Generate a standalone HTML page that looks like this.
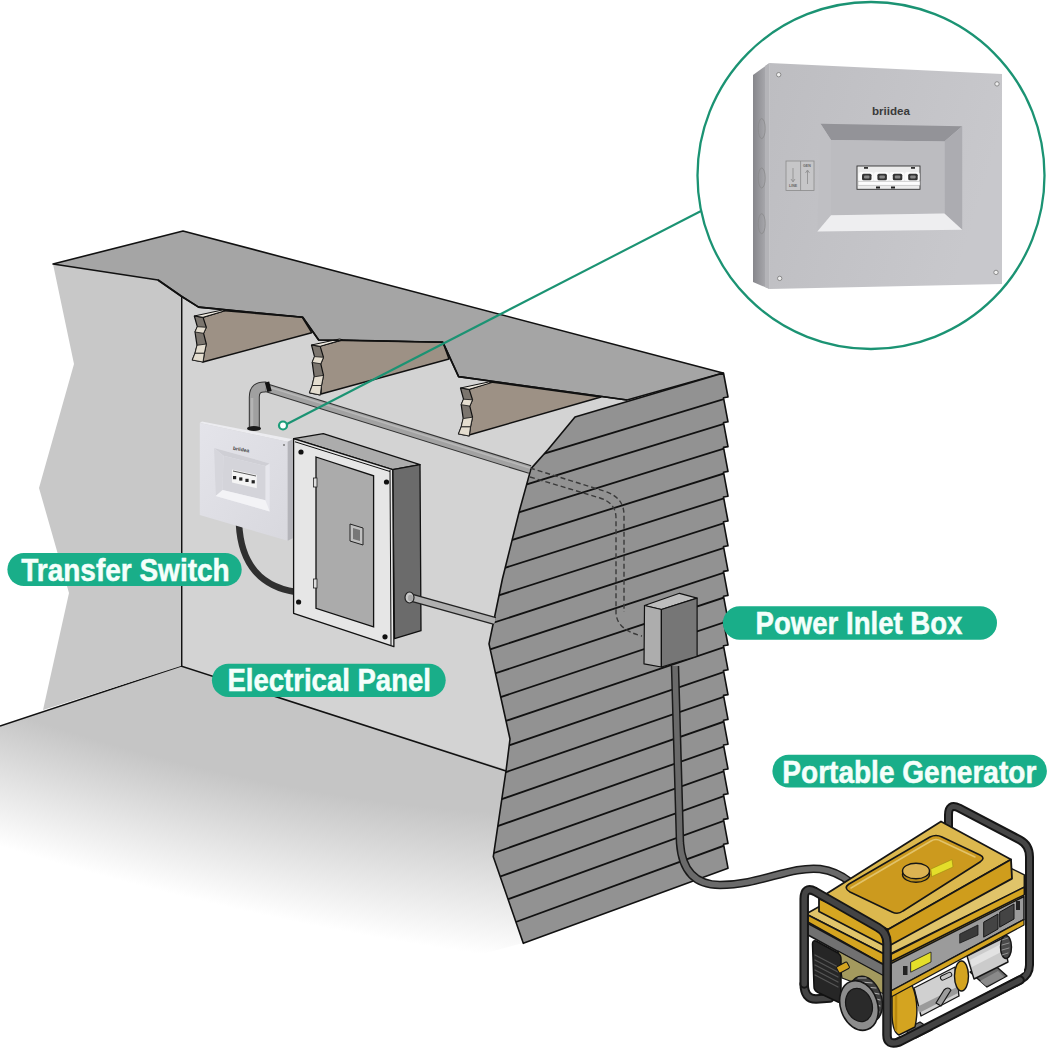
<!DOCTYPE html>
<html><head><meta charset="utf-8">
<style>
html,body{margin:0;padding:0;background:#fff;}
body{width:1050px;height:1050px;overflow:hidden;position:relative;font-family:"Liberation Sans",sans-serif;}
svg{position:absolute;left:0;top:0;}
</style></head><body>
<svg width="1050" height="1050" viewBox="0 0 1050 1050">
<defs>
  <filter id="fblur" x="-50%" y="-50%" width="200%" height="200%"><feGaussianBlur stdDeviation="40"/></filter>
  <clipPath id="floorclip"><polygon points="0,726 181,666 506,771 493,857 523,943 0,1050"/></clipPath>
  <clipPath id="sidingclip"><polygon id="sidpoly" points="723.5,373.0 728.0,397.0 723.5,397.8 728.0,421.8 723.5,422.6 728.0,446.6 723.5,447.4 728.0,471.4 723.5,472.2 728.0,496.2 723.5,497.0 728.0,521.0 723.5,521.8 728.0,545.8 723.5,546.6 728.0,570.6 723.5,571.4 728.0,595.4 723.5,596.2 728.0,620.2 723.5,621.0 728.0,645.0 723.5,645.8 728.0,669.8 723.5,670.6 728.0,694.6 723.5,695.4 728.0,719.4 723.5,720.2 728.0,744.2 723.5,745.0 728.0,769.0 723.5,769.8 728.0,793.8 723.5,794.6 728.0,818.6 723.5,819.4 728.0,843.4 723.5,844.2 728.0,868.2 523.3,943.3 493.3,856.7 506.2,769.5 510.0,739.0 489.0,643.8 502.4,579.0 519.5,510.5 531.0,468.6 548.1,449.5 575.0,417.0"/></clipPath>
</defs>
<polygon points="181,290 640,395 600,430 540,650 540,780 506,771 181,666" fill="#d3d3d3"/>
<radialGradient id="flg" gradientUnits="userSpaceOnUse" cx="0" cy="0" r="1" gradientTransform="translate(200,550) rotate(15) scale(1050,340)"><stop offset="0.62" stop-color="#c5c5c5"/><stop offset="0.82" stop-color="#e4e4e4"/><stop offset="1" stop-color="#ffffff"/></radialGradient>
<polygon points="0,726 181,666 540,780 523,943 0,1084" fill="url(#flg)"/>
<polyline points="0,726 181,666 506,771" fill="none" stroke="#111" stroke-width="1.6"/>
<line x1="181.5" y1="296" x2="181.5" y2="666" stroke="#111" stroke-width="1.9"/>
<polygon points="53,264 158,280 181,296 181,666 43,710 69,593 39,488 74,364" fill="#c8c8c8"/>
<polygon points="53,264 183,231 723,373 627,400 458.6,376.6 442.9,342.3 318.7,340 302.7,317.3 198.6,307.1 181,296 158,280" fill="#a5a5a5" stroke="#111" stroke-width="1.6" stroke-linejoin="round"/>
<polygon points="203.0,317.3 225.0,310.7 302.3,317.3 311.7,332.7 203.0,362.0" fill="#9d9185" stroke="#111" stroke-width="1.4" stroke-linejoin="round"/>
<polygon points="194.3,316.0 197.3,326.7 195.0,332.0 197.0,345.3 195.0,353.3 192.3,360.0 203.0,362.0 204.3,353.3 206.3,344.0 203.6,333.3 206.3,327.3 203.0,317.3" fill="#7b756e" stroke="#111" stroke-width="1.2" stroke-linejoin="round"/>
<polygon points="197.3,326.7 206.3,327.3 203.6,333.3 195.0,332.0" fill="#e4ddcf" stroke="#111" stroke-width="0.8"/>
<polygon points="197.0,345.3 206.3,344.0 204.3,353.3 195.0,353.3" fill="#e4ddcf" stroke="#111" stroke-width="0.8"/>
<polygon points="195.0,353.3 204.3,353.3 203.0,362.0 192.3,360.0" fill="#e4ddcf" stroke="#111" stroke-width="0.8"/>
<polygon points="194.3,316.0 222.3,310.0 225.3,310.7 203.0,317.3" fill="#ebe6dc" stroke="#111" stroke-width="1"/>
<polygon points="320.0,346.0 342.0,340.0 442.9,342.3 449.0,359.0 321.0,394.0" fill="#9d9185" stroke="#111" stroke-width="1.4" stroke-linejoin="round"/>
<polygon points="311.5,345.0 314.5,356.6 312.2,362.4 314.2,376.8 312.2,385.5 309.5,392.8 320.2,395.0 321.5,385.5 323.5,375.4 320.8,363.8 323.5,357.3 320.2,346.4" fill="#7b756e" stroke="#111" stroke-width="1.2" stroke-linejoin="round"/>
<polygon points="314.5,356.6 323.5,357.3 320.8,363.8 312.2,362.4" fill="#e4ddcf" stroke="#111" stroke-width="0.8"/>
<polygon points="314.2,376.8 323.5,375.4 321.5,385.5 312.2,385.5" fill="#e4ddcf" stroke="#111" stroke-width="0.8"/>
<polygon points="312.2,385.5 321.5,385.5 320.2,395.0 309.5,392.8" fill="#e4ddcf" stroke="#111" stroke-width="0.8"/>
<polygon points="311.5,345.0 339.5,339.0 342.5,339.7 320.2,346.3" fill="#ebe6dc" stroke="#111" stroke-width="1"/>
<polygon points="469.0,389.3 491.0,382.0 601.0,397.0 469.0,435.0" fill="#9d9185" stroke="#111" stroke-width="1.4" stroke-linejoin="round"/>
<polygon points="460.5,388.0 463.5,399.2 461.2,404.7 463.2,418.6 461.2,426.9 458.5,433.9 469.2,436.0 470.5,426.9 472.5,417.2 469.8,406.1 472.5,399.8 469.2,389.4" fill="#7b756e" stroke="#111" stroke-width="1.2" stroke-linejoin="round"/>
<polygon points="463.5,399.2 472.5,399.8 469.8,406.1 461.2,404.7" fill="#e4ddcf" stroke="#111" stroke-width="0.8"/>
<polygon points="463.2,418.6 472.5,417.2 470.5,426.9 461.2,426.9" fill="#e4ddcf" stroke="#111" stroke-width="0.8"/>
<polygon points="461.2,426.9 470.5,426.9 469.2,436.0 458.5,433.9" fill="#e4ddcf" stroke="#111" stroke-width="0.8"/>
<polygon points="460.5,388.0 488.5,382.0 491.5,382.7 469.2,389.3" fill="#ebe6dc" stroke="#111" stroke-width="1"/>
<polyline points="158,280 181,296 198.6,307.1 302.7,317.3 318.7,340 442.9,342.3 458.6,376.6 627,400" fill="none" stroke="#111" stroke-width="1.6" stroke-linejoin="round"/>
<polygon points="723.5,373.0 728.0,397.0 723.5,397.8 728.0,421.8 723.5,422.6 728.0,446.6 723.5,447.4 728.0,471.4 723.5,472.2 728.0,496.2 723.5,497.0 728.0,521.0 723.5,521.8 728.0,545.8 723.5,546.6 728.0,570.6 723.5,571.4 728.0,595.4 723.5,596.2 728.0,620.2 723.5,621.0 728.0,645.0 723.5,645.8 728.0,669.8 723.5,670.6 728.0,694.6 723.5,695.4 728.0,719.4 723.5,720.2 728.0,744.2 723.5,745.0 728.0,769.0 723.5,769.8 728.0,793.8 723.5,794.6 728.0,818.6 723.5,819.4 728.0,843.4 723.5,844.2 728.0,868.2 523.3,943.3 493.3,856.7 506.2,769.5 510.0,739.0 489.0,643.8 502.4,579.0 519.5,510.5 531.0,468.6 548.1,449.5 575.0,417.0" fill="#929292"/>
<g clip-path="url(#sidingclip)" stroke="#111" stroke-width="1.8"><line x1="728" y1="397.8" x2="470" y2="476.1"/><line x1="728" y1="422.6" x2="470" y2="501.8"/><line x1="728" y1="447.4" x2="470" y2="527.5"/><line x1="728" y1="472.2" x2="470" y2="553.2"/><line x1="728" y1="497.0" x2="470" y2="578.9"/><line x1="728" y1="521.8" x2="470" y2="604.6"/><line x1="728" y1="546.6" x2="470" y2="630.3"/><line x1="728" y1="571.4" x2="470" y2="656.0"/><line x1="728" y1="596.2" x2="470" y2="681.7"/><line x1="728" y1="621.0" x2="470" y2="707.4"/><line x1="728" y1="645.8" x2="470" y2="733.1"/><line x1="728" y1="670.6" x2="470" y2="758.8"/><line x1="728" y1="695.4" x2="470" y2="784.5"/><line x1="728" y1="720.2" x2="470" y2="810.2"/><line x1="728" y1="745.0" x2="470" y2="835.9"/><line x1="728" y1="769.8" x2="470" y2="861.6"/><line x1="728" y1="794.6" x2="470" y2="887.4"/><line x1="728" y1="819.4" x2="470" y2="913.1"/><line x1="728" y1="844.2" x2="470" y2="938.8"/></g>
<polygon points="723.5,373.0 728.0,397.0 723.5,397.8 728.0,421.8 723.5,422.6 728.0,446.6 723.5,447.4 728.0,471.4 723.5,472.2 728.0,496.2 723.5,497.0 728.0,521.0 723.5,521.8 728.0,545.8 723.5,546.6 728.0,570.6 723.5,571.4 728.0,595.4 723.5,596.2 728.0,620.2 723.5,621.0 728.0,645.0 723.5,645.8 728.0,669.8 723.5,670.6 728.0,694.6 723.5,695.4 728.0,719.4 723.5,720.2 728.0,744.2 723.5,745.0 728.0,769.0 723.5,769.8 728.0,793.8 723.5,794.6 728.0,818.6 723.5,819.4 728.0,843.4 723.5,844.2 728.0,868.2 523.3,943.3 493.3,856.7 506.2,769.5 510.0,739.0 489.0,643.8 502.4,579.0 519.5,510.5 531.0,468.6 548.1,449.5 575.0,417.0" fill="none" stroke="#111" stroke-width="1.6" stroke-linejoin="round"/>
<g fill="none" stroke="#3a3a3a" stroke-width="1.4" stroke-dasharray="5,3"><path d="M530,468 L604,491 Q624,497 624,515 L624,612"/><path d="M530,477 L600,498 Q616,503 616,518 L616,613 Q617,630 642,636"/></g>
<line x1="264" y1="387" x2="530" y2="469.5" stroke="#333" stroke-width="9" stroke-linecap="butt"/>
<line x1="264" y1="387" x2="530" y2="469.5" stroke="#a2a2a2" stroke-width="7" stroke-linecap="butt"/>
<line x1="264" y1="385.5" x2="530" y2="468" stroke="#b8b8b8" stroke-width="1.6"/>
<path d="M254.3,430 L254.3,397 Q254.3,386 266,387" fill="none" stroke="#333" stroke-width="11"/>
<path d="M254.3,430 L254.3,397 Q254.3,386 266,387" fill="none" stroke="#a0a0a0" stroke-width="9"/>
<line x1="252" y1="430" x2="252" y2="398" stroke="#b4b4b4" stroke-width="2.5"/>
<line x1="267" y1="382" x2="269.5" y2="391.5" stroke="#111" stroke-width="4.5"/>
<path d="M239,524 C241,565 262,587 296,592" fill="none" stroke="#303030" stroke-width="6.5"/>
<polygon points="199.8,423 202,421.5 292.7,439.2 287.7,441.7" fill="#ececf0"/>
<linearGradient id="tsg" x1="0" y1="0" x2="1" y2="1"><stop offset="0" stop-color="#e4e4ea"/><stop offset="1" stop-color="#d8d8de"/></linearGradient>
<polygon points="199.8,423 287.7,441.7 287.7,540.8 199.8,515" fill="url(#tsg)"/>
<polygon points="287.7,441.7 292.7,439.2 292.7,538.3 287.7,540.8" fill="#b4b4ba"/>
<polygon points="214,448 269.7,463.4 269.7,511.4 215.7,496" fill="#e6e6ec"/>
<polygon points="214,448 269.7,463.4 265.4,466 223.4,455.7" fill="#cfcfd5"/>
<polygon points="214,448 223.4,455.7 222.6,490 215.7,496" fill="#d6d6dc"/>
<polygon points="223.4,455.7 265.4,466 265.4,500.2 222.6,490" fill="#d4d4da"/>
<polygon points="215.7,496 222.6,490 265.4,500.2 269.7,511.4" fill="#f3f3f6"/>
<polygon points="232,469.4 256.8,475 256.8,488.2 232,482.6" fill="#f4f4f4"/>
<g fill="#222"><rect x="233.0" y="476.0" width="3.2" height="3.2"/><rect x="239.2" y="477.4" width="3.2" height="3.2"/><rect x="245.4" y="478.8" width="3.2" height="3.2"/><rect x="251.6" y="480.2" width="3.2" height="3.2"/></g>
<line x1="233" y1="471" x2="256" y2="476" stroke="#333" stroke-width="0.8"/>
<text x="233" y="451" font-size="5" font-weight="bold" fill="#444" font-family="Liberation Sans" transform="rotate(10 240 449)">briidea</text>
<circle cx="284" cy="445" r="1" fill="#777"/>
<ellipse cx="254" cy="428.5" rx="7" ry="2.4" fill="#1a1a1a"/>
<polygon points="293.6,438.7 323.3,433.7 420,464.7 392.7,469.6" fill="#acacac" stroke="#111" stroke-width="1.3" stroke-linejoin="round"/>
<polygon points="392.7,469.6 420,464.7 421,630.7 394.5,638.7" fill="#6b6b6b" stroke="#111" stroke-width="1.3" stroke-linejoin="round"/>
<polygon points="293.6,438.7 392.7,469.6 393.9,646.7 293.6,613.3" fill="#e6e6e6" stroke="#111" stroke-width="1.3" stroke-linejoin="round"/>
<line x1="390" y1="470" x2="391" y2="645" stroke="#111" stroke-width="1"/>
<line x1="295" y1="441.8" x2="390" y2="471.5" stroke="#111" stroke-width="1"/>
<polygon points="316,457 373.6,475.8 373.6,626.9 316,608.3" fill="#ababab" stroke="#111" stroke-width="1.3"/>
<circle cx="301" cy="452" r="2.6" fill="#111"/>
<circle cx="386.5" cy="482" r="2.6" fill="#111"/>
<circle cx="298.6" cy="602" r="2.6" fill="#111"/>
<circle cx="385" cy="636.8" r="2.6" fill="#111"/>
<rect x="313.5" y="478" width="3.5" height="9" fill="#ddd" stroke="#222" stroke-width="0.8"/>
<rect x="313.5" y="579" width="3.5" height="9" fill="#ddd" stroke="#222" stroke-width="0.8"/>
<polygon points="350,524 363,528 363,545 350,541" fill="#c0c0c0" stroke="#222" stroke-width="1"/>
<polygon points="353,528 360,530 360,541 353,539" fill="#777"/>
<line x1="409" y1="597" x2="495" y2="621" stroke="#222" stroke-width="8.5"/>
<line x1="409" y1="597" x2="495" y2="621" stroke="#b0b0b0" stroke-width="5.5"/>
<ellipse cx="409.5" cy="597.5" rx="4.5" ry="5.5" fill="#c8c8c8" stroke="#222" stroke-width="1.2"/><ellipse cx="410.5" cy="598" rx="2.5" ry="3.2" fill="#a8a8a8"/>
<polygon points="644.5,605.5 679.5,593.3 697.1,598.1 661.4,609.5" fill="#bdbdbd" stroke="#111" stroke-width="1.2" stroke-linejoin="round"/>
<polygon points="644.5,605.5 661.4,609.5 661.4,667 644,663.8" fill="#adadad" stroke="#111" stroke-width="1.2" stroke-linejoin="round"/>
<polygon points="661.4,609.5 697.1,598.1 697.1,656.2 661.4,667" fill="#767676" stroke="#111" stroke-width="1.2" stroke-linejoin="round"/>
<path d="M675,666 L680,843 Q683,885 720,885 C760,885 790,866 820,869 C835,871 845,878 850,882" fill="none" stroke="#1a1a1a" stroke-width="8.5"/>
<path d="M675,666 L680,843 Q683,885 720,885 C760,885 790,866 820,869 C835,871 845,878 850,882" fill="none" stroke="#6a6a6a" stroke-width="5.5"/>
<line x1="285" y1="425" x2="702" y2="210.5" stroke="#1b9373" stroke-width="2.1"/>
<circle cx="283" cy="425.5" r="4" fill="#fff" stroke="#1b9d79" stroke-width="2.2"/>
<circle cx="871" cy="175.5" r="173.5" fill="#fff" stroke="#1b9373" stroke-width="2.3"/>
<linearGradient id="cbf" x1="0" y1="0" x2="1" y2="0.3"><stop offset="0" stop-color="#bdbdc1"/><stop offset="1" stop-color="#c8c8cc"/></linearGradient>
<linearGradient id="cbs" x1="0" y1="0" x2="1" y2="0"><stop offset="0" stop-color="#86868b"/><stop offset="1" stop-color="#b2b2b6"/></linearGradient>
<polygon points="753,75 769.5,63 769.5,289 753,282" fill="url(#cbs)"/>
<polygon points="765,66 769.5,63 769.5,289 765,287" fill="#b4b4b8"/>
<polygon points="769.5,63 1002,74 1002,284 769.5,289" fill="url(#cbf)"/>
<polygon points="820.5,123.8 962.2,126.2 944.4,141.6 831,140" fill="#939398"/>
<polygon points="820.5,123.8 831,140 831,215.2 817.3,231.4" fill="#bfbfc3"/>
<polygon points="962.2,126.2 962.2,229.8 944.4,213.6 944.4,141.6" fill="#acacb1"/>
<polygon points="831,140 944.4,141.6 944.4,213.6 831,215.2" fill="#bcbcc0"/>
<polygon points="817.3,231.4 831,215.2 944.4,213.6 962.2,229.8" fill="#eeeef0"/>
<rect x="857" y="166" width="63" height="23.3" fill="#ececec" stroke="#333" stroke-width="0.9"/>
<g fill="#fafafa"><rect x="858.5" y="172" width="15" height="9.5" rx="2.5"/><rect x="873.9" y="172" width="15" height="9.5" rx="2.5"/><rect x="889.3" y="172" width="15" height="9.5" rx="2.5"/><rect x="904.7" y="172" width="15" height="9.5" rx="2.5"/></g>
<g fill="#333"><rect x="862.0" y="173.8" width="9.5" height="6.5" rx="1.5"/><rect x="877.4" y="173.8" width="9.5" height="6.5" rx="1.5"/><rect x="892.8" y="173.8" width="9.5" height="6.5" rx="1.5"/><rect x="908.2" y="173.8" width="9.5" height="6.5" rx="1.5"/></g>
<g fill="#888"><rect x="864.0" y="175.5" width="5.5" height="3" rx="1"/><rect x="879.4" y="175.5" width="5.5" height="3" rx="1"/><rect x="894.8" y="175.5" width="5.5" height="3" rx="1"/><rect x="910.2" y="175.5" width="5.5" height="3" rx="1"/></g>
<rect x="858" y="181.2" width="62" height="4" fill="#fdfdfd" stroke="#aaa" stroke-width="0.5"/>
<rect x="876" y="186.5" width="4" height="2" fill="#222"/><rect x="891" y="186.5" width="4" height="2" fill="#222"/>
<rect x="864" y="167" width="4" height="1.8" fill="#333"/><rect x="911" y="167" width="4" height="1.8" fill="#333"/>
<text x="872" y="115" font-size="10.5" font-weight="bold" fill="#3a3a3a" font-family="Liberation Sans" textLength="38" lengthAdjust="spacingAndGlyphs">briidea</text>
<rect x="786" y="161" width="28" height="29.5" fill="#c6c6c8" stroke="#8a8a8a" stroke-width="0.8"/>
<line x1="800.6" y1="161" x2="800.6" y2="190.5" stroke="#8a8a8a" stroke-width="0.8"/>
<g stroke="#777" stroke-width="0.6" fill="none"><path d="M793,168 L793,181 M791,179 L793,182 L795,179"/><path d="M807.5,184 L807.5,171 M805.5,173 L807.5,170 L809.5,173"/></g>
<text x="789" y="187" font-size="3.6" fill="#666" font-family="Liberation Sans" font-weight="bold">LINE</text>
<text x="803" y="167" font-size="3.6" fill="#666" font-family="Liberation Sans" font-weight="bold">GEN</text>
<circle cx="778.7" cy="74.7" r="2.2" fill="#eee" stroke="#777" stroke-width="0.8"/>
<circle cx="997" cy="83.9" r="2.2" fill="#eee" stroke="#777" stroke-width="0.8"/>
<circle cx="779.7" cy="278.4" r="2.2" fill="#eee" stroke="#777" stroke-width="0.8"/>
<circle cx="996" cy="272.4" r="2.2" fill="#eee" stroke="#777" stroke-width="0.8"/>
<ellipse cx="761.7" cy="128.6" rx="3.5" ry="10" fill="none" stroke="#8a8a8c" stroke-width="0.8"/>
<ellipse cx="761.7" cy="178" rx="3.5" ry="10" fill="none" stroke="#8a8a8c" stroke-width="0.8"/>
<ellipse cx="761.7" cy="223.7" rx="3.5" ry="10" fill="none" stroke="#8a8a8c" stroke-width="0.8"/>
<g id="generator" stroke-linejoin="round" stroke-linecap="round">
  <!-- back frame loop -->
  <path d="M948.5,832 L948.5,815 Q948.5,803 959,808 L1020,840 Q1029.5,845 1029.5,857 L1029.5,965 Q1029.5,975 1020,980 L898,1042" fill="none" stroke="#161616" stroke-width="9"/>
  <path d="M948.5,832 L948.5,815 Q948.5,803 959,808 L1020,840 Q1029.5,845 1029.5,857 L1029.5,965 Q1029.5,975 1020,980 L898,1042" fill="none" stroke="#464646" stroke-width="5"/>
  <!-- lower machinery background -->
  <polygon points="891,996 1024,924 1024,972 905,1036 891,1036" fill="#ffffff"/>
  <!-- right foot -->
  <polygon points="970,972 990,961 1007,976 987,987" fill="#6c6c6c" stroke="#161616" stroke-width="1.4"/>
  <polygon points="980,981 998,971 1004,977 986,986" fill="#8a8a8a"/>
  <!-- right silver cylinder -->
  <polygon points="967,956 1003,938 1008,962 974,979" fill="#cbcbcb" stroke="#161616" stroke-width="1.4"/>
  <polygon points="970,960 1003,943 1005,950 972,967" fill="#e2e2e2"/>
  <ellipse cx="1006" cy="947" rx="5.5" ry="11.5" fill="#4a4a4a" stroke="#161616" stroke-width="1.4"/>
  <g stroke="#999" stroke-width="0.9"><line x1="1002" y1="940" x2="1008" y2="938"/><line x1="1002" y1="945" x2="1009" y2="943"/><line x1="1002" y1="950" x2="1009" y2="948"/><line x1="1002" y1="955" x2="1008" y2="953"/></g>
  <!-- left foot -->
  <polygon points="904,1030 920,1022 932,1030 916,1038" fill="#6c6c6c" stroke="#161616" stroke-width="1.3"/>
  <!-- middle silver cylinder -->
  <polygon points="914,988 955,967 959,996 921,1016" fill="#d0d0d0" stroke="#161616" stroke-width="1.4"/>
  <polygon points="917,1007 957,987 958,993 919,1013" fill="#9a9a9a"/>
  <rect x="940" y="974" width="12" height="4.5" rx="2.2" fill="#c4c4c4" stroke="#161616" stroke-width="1" transform="rotate(-25 946 976)"/>
  <path d="M936,1003 L944,990 Q948,986 951,990 L941,1006 Z" fill="#9d9d9d" stroke="#161616" stroke-width="1.2"/>
  <ellipse cx="961.5" cy="976" rx="7" ry="15" fill="#d4a420" stroke="#161616" stroke-width="1.4"/>
  <!-- yellow end cap -->
  <path d="M892,995 L912,985 Q920,1004 915,1027 L899,1035 Q892,1032 892,1012 Z" fill="#d4a420" stroke="#161616" stroke-width="1.4"/>
  <path d="M896,996 L896,1030" stroke="#b8890f" stroke-width="2.5"/>
  <!-- control panel -->
  <polygon points="891,961.5 1024.3,894.8 1024.3,897 891,964" fill="#d4a420"/>
  <polygon points="891,963.5 1024,896.5 1024,919.5 891,991" fill="#9b9b9b" stroke="#161616" stroke-width="1.5"/>
  <polygon points="891,991 1024,919.5 1024,925 891,997" fill="#d4a420" stroke="#161616" stroke-width="1.2"/>
  <polygon points="911,962 931,952 931,962 911,972" fill="#e4de2a" stroke="#161616" stroke-width="0.8"/>
  <rect x="903" y="966" width="4.5" height="9" fill="#222"/>
  <polygon points="960,934 978,925 978,935 960,943" fill="#3a3a3a" stroke="#161616" stroke-width="0.8"/>
  <polygon points="984,922 998,914 998,929 984,937" fill="#444" stroke="#161616" stroke-width="1"/>
  <polygon points="1000,912 1014,904 1014,919 1000,927" fill="#444" stroke="#161616" stroke-width="1"/>
  <rect x="1016" y="901" width="4" height="9" fill="#222"/>
  <!-- base plate -->
  <polygon points="806,914 945,836 1024.3,874.8 1024.3,887.1 887,955.5" fill="#e0c46a" stroke="#161616" stroke-width="1.5"/>
  <polygon points="806,914 887,955.5 887,966.5 806,921" fill="#d4a420" stroke="#161616" stroke-width="1.5"/>
  <polygon points="891,954.3 1024.3,887.1 1024.3,894.8 891,961.5" fill="#d4a420" stroke="#161616" stroke-width="1.5"/>
  <!-- crossbar gray -->
  <polygon points="802.6,920.5 887,966.5 887,978.5 802.6,932" fill="#717171" stroke="#161616" stroke-width="1.5"/>
  <!-- tank -->
  <polygon points="819,898.6 941,821.5 1011,859.5 888,929.5" fill="#dcb84e" stroke="#161616" stroke-width="1.8"/>
  <polygon points="819,898.6 888,929.5 887,947 819,911.5" fill="#d6a621" stroke="#161616" stroke-width="1.8"/>
  <polygon points="888,929.5 1011,859.5 1012,878.6 887,947" fill="#cf9d1c" stroke="#161616" stroke-width="1.8"/>
  <path d="M849,884 L930,837 Q936,834 942,837 L980,855 Q986,858 980,862 L903,911 Q898,915 892,912 L850,892 Q843,888 849,884 Z" fill="#cc9a1e" stroke="#161616" stroke-width="1.6"/>
  <path d="M851,888 L931,841 Q936,838 941,841 L975,857" fill="none" stroke="#e2c36a" stroke-width="1.6"/>
  <ellipse cx="916" cy="874.5" rx="13.5" ry="7.8" fill="#b98b18" stroke="#161616" stroke-width="1.4"/>
  <ellipse cx="916" cy="871" rx="13.5" ry="7.8" fill="#dcb352" stroke="#161616" stroke-width="1.4"/>
  <polygon points="931,869 952,859.5 953,867 932,876.5" fill="#e4de2a" stroke="#9a8a10" stroke-width="0.6"/>
  <path d="M830,998 L816,999 Q804.2,999 804.2,984" fill="none" stroke="#161616" stroke-width="9.5"/>
  <path d="M830,998 L816,999 Q804.2,999 804.2,984" fill="none" stroke="#444" stroke-width="5.5"/>
  <!-- engine block -->
  <polygon points="838,951 887,977.5 887,995 842,978" fill="#a49a5e" stroke="#161616" stroke-width="1.2"/>
  <path d="M812.5,944 Q812.5,940 816,941 L838,953 Q841,955 841,959 L841,1000 Q841,1003 838,1002 L817,992 Q814,990 814,987 Z" fill="#262626" stroke="#111" stroke-width="1.5"/>
  <g stroke="#555" stroke-width="1.3"><line x1="815" y1="955" x2="838" y2="967"/><line x1="815" y1="960" x2="838" y2="972"/><line x1="815" y1="965" x2="838" y2="977"/><line x1="815" y1="970" x2="838" y2="982"/><line x1="815" y1="975" x2="838" y2="987"/></g>
  <rect x="837" y="964" width="12" height="7" rx="1.5" fill="#d4a420" stroke="#161616" stroke-width="1" transform="rotate(-28 843 967.5)"/>
  <!-- wheel -->
  <ellipse cx="866" cy="999" rx="15.5" ry="23.5" fill="#3e3e3e" stroke="#161616" stroke-width="1.5" transform="rotate(-19 866 999)"/>
  <g stroke="#b0b0b0" stroke-width="1.2">
    <line x1="858" y1="978" x2="866" y2="978"/><line x1="862" y1="982" x2="872" y2="983"/><line x1="865" y1="987" x2="876" y2="988"/><line x1="868" y1="992" x2="879" y2="994"/><line x1="869" y1="997" x2="880" y2="1000"/><line x1="870" y1="1002" x2="880" y2="1006"/><line x1="870" y1="1007" x2="879" y2="1012"/><line x1="869" y1="1012" x2="877" y2="1017"/>
  </g>
  <ellipse cx="859" cy="1005.5" rx="18.5" ry="25.5" fill="#8c8c8c" stroke="#161616" stroke-width="1.6" transform="rotate(-19 859 1005.5)"/>
  <ellipse cx="859" cy="1005" rx="13" ry="17" fill="#2a2a2a" stroke="#161616" stroke-width="1.2" transform="rotate(-19 859 1005)"/>
  <!-- front frame loop -->
  <path d="M804.2,984 L804.2,899 Q804.2,886 815,891.5 L878,927.5 Q887,932.5 887,943 L887,1035 Q887,1046 899,1042 L1020,980" fill="none" stroke="#161616" stroke-width="9.5"/>
  <path d="M804.2,984 L804.2,899 Q804.2,886 815,891.5 L878,927.5 Q887,932.5 887,943 L887,1035 Q887,1046 899,1042 L1020,980" fill="none" stroke="#444" stroke-width="5.5"/>
</g>

<rect x="7.4" y="553" width="234.3" height="33.0" rx="16.5" fill="#19ae89"/>
<text x="21.2" y="580.9" font-size="30.5" font-weight="bold" fill="#f4fffb" stroke="#f4fffb" stroke-width="0.5" font-family="Liberation Sans" textLength="208.5" lengthAdjust="spacingAndGlyphs">Transfer Switch</text>
<rect x="211.9" y="663.7" width="233.8" height="33.2" rx="16.6" fill="#19ae89"/>
<text x="227.5" y="691.4" font-size="30.5" font-weight="bold" fill="#f4fffb" stroke="#f4fffb" stroke-width="0.5" font-family="Liberation Sans" textLength="203.4" lengthAdjust="spacingAndGlyphs">Electrical Panel</text>
<rect x="722.9" y="606.3" width="274.1" height="33.4" rx="16.7" fill="#19ae89"/>
<text x="755.6" y="634.3" font-size="30.5" font-weight="bold" fill="#f4fffb" stroke="#f4fffb" stroke-width="0.5" font-family="Liberation Sans" textLength="206.8" lengthAdjust="spacingAndGlyphs">Power Inlet Box</text>
<rect x="772.4" y="754.8" width="274.5" height="32.6" rx="16.3" fill="#19ae89"/>
<text x="782.3" y="782.8" font-size="30.5" font-weight="bold" fill="#f4fffb" stroke="#f4fffb" stroke-width="0.5" font-family="Liberation Sans" textLength="254.0" lengthAdjust="spacingAndGlyphs">Portable Generator</text>
</svg>
</body></html>
